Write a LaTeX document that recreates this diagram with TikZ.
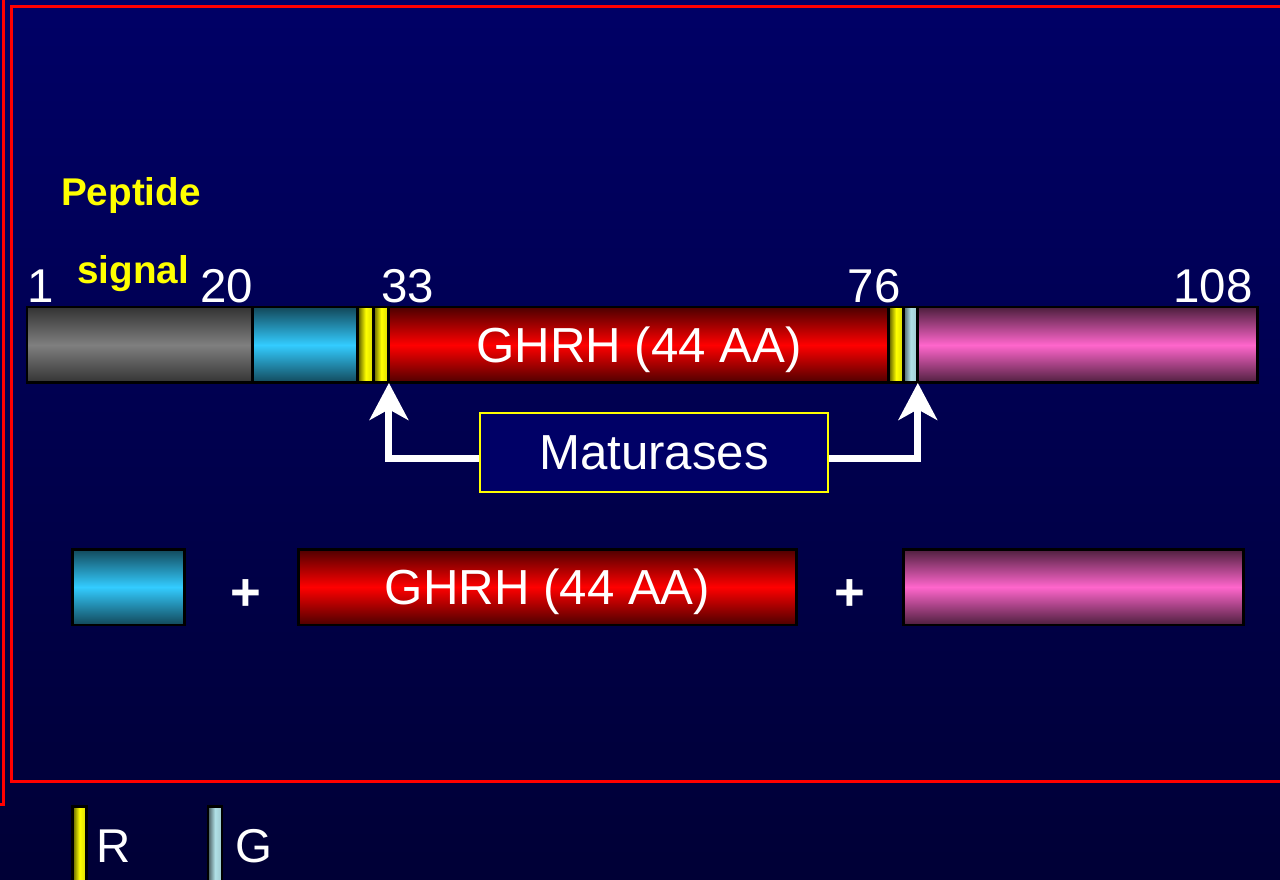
\documentclass[tikz,border=0pt]{standalone}
\usepackage{fontspec}
\setmainfont{Liberation Sans}
\usetikzlibrary{arrows.meta,positioning,calc}
\definecolor{Navy}{HTML}{000066}
\definecolor{NavyDark}{HTML}{000036}
\definecolor{Frame}{HTML}{FF0000}
\definecolor{Sky}{HTML}{33CCFF}
\definecolor{Pinky}{HTML}{FF66CC}
\definecolor{Glycine}{HTML}{B0E0E6}
\definecolor{Label}{HTML}{FFFF00}
\tikzset{
  seg/.style={draw=black,line width=1.7pt,outer sep=0pt,inner sep=0pt,minimum height=1.52cm,text=white,text depth=0pt,font=\fontsize{28}{30}\selectfont},
  greyseg/.style={seg,top color=black!80,bottom color=black!80,middle color=black!50},
  cyanseg/.style={seg,top color=Sky!35!black,bottom color=Sky!35!black,middle color=Sky},
  redseg/.style={seg,top color=red!30!black,bottom color=red!30!black,middle color=red},
  pinkseg/.style={seg,top color=Pinky!30!black,bottom color=Pinky!30!black,middle color=Pinky},
  rseg/.style={seg,left color=Label!35!black,right color=Label!85!black,middle color=Label},
  gseg/.style={seg,left color=Glycine!40!black,right color=Glycine!90!black,middle color=Glycine},
  frame/.style={draw=Frame,line width=1.7pt},
  num/.style={text=white,font=\fontsize{27}{30}\selectfont,inner sep=0pt},
  sig/.style={text=Label,font=\bfseries\fontsize{22}{24}\selectfont,inner sep=0pt},
  plus/.style={text=white,font=\bfseries\fontsize{30}{32}\selectfont,inner sep=0pt},
  matbox/.style={draw=Label,line width=1.2pt,fill=Navy,text=white,font=\fontsize{28}{30}\selectfont},
  cut/.style={draw=white,line width=4pt,-{Stealth[length=21pt,width=22pt,inset=6pt]}}
}

\begin{document}
\begin{tikzpicture}[x=0.02cm,y=-0.02cm]
  \useasboundingbox (0,0) rectangle (1280,879);
  \shade[top color=Navy,bottom color=NavyDark] (0,0) rectangle (1280,879);
  \draw[frame] (-50,-20) rectangle (3.5,804);
  \draw[frame] (11.5,6.5) rectangle (1320,781.5);

  % precursor
  \node[greyseg,minimum width=4.52cm,anchor=north west] (signal) at (27,307) {};
  \node[cyanseg,minimum width=2.10cm,right=0pt of signal] (pro) {};
  \node[rseg,minimum width=0.31cm,right=0pt of pro] (rA) {};
  \node[rseg,minimum width=0.31cm,right=0pt of rA] (rB) {};
  \node[redseg,minimum width=10cm,right=0pt of rB] (ghrh) {GHRH (44 AA)};
  \node[rseg,minimum width=0.29cm,right=0pt of ghrh] (rC) {};
  \node[gseg,minimum width=0.29cm,right=0pt of rC] (gA) {};
  \node[pinkseg,minimum width=6.8cm,right=0pt of gA] (tail) {};

  \node[num,anchor=base] (n1) at (41,302) {1};
  \node[num,anchor=base] (n20) at (227,302) {20};
  \node[num,anchor=base] (n33) at (408,302) {33};
  \node[num,anchor=base] (n76) at (874,302) {76};
  \node[num,anchor=base east] (n108) at (1253,302) {108};
  \node[sig,anchor=base] (pep) at (131,205) {Peptide};
  \node[sig,anchor=base] (sgn) at (133,283) {signal};

  % cleavage
  \node[matbox,minimum width=6.96cm,minimum height=1.58cm] (mat) at (654,452.5) {Maturases};
  \draw[cut] ($(mat.west)+(0,6)$) -| (rB.south east);
  \draw[cut] ($(mat.east)+(0,6)$) -| (gA.south east);

  % products
  \node[cyanseg,minimum width=2.26cm] (proB) at (128.5,587) {};
  \node[plus] (plusA) at (246,595) {+};
  \node[redseg,minimum width=9.98cm] (ghrhB) at (547.5,587) {GHRH (44 AA)};
  \node[plus] (plusB) at (850,595) {+};
  \node[pinkseg,minimum width=6.82cm] (tailB) at (1073.5,587) {};

  % legend
  \node[rseg,minimum width=0.28cm,minimum height=2cm,anchor=north] (keyR) at (79.5,806) {};
  \node[num,anchor=base west] (txtR) at (96,862) {R};
  \node[gseg,minimum width=0.28cm,minimum height=2cm,anchor=north] (keyG) at (215,806) {};
  \node[num,anchor=base west] (txtG) at (235,862) {G};
\end{tikzpicture}
\end{document}
